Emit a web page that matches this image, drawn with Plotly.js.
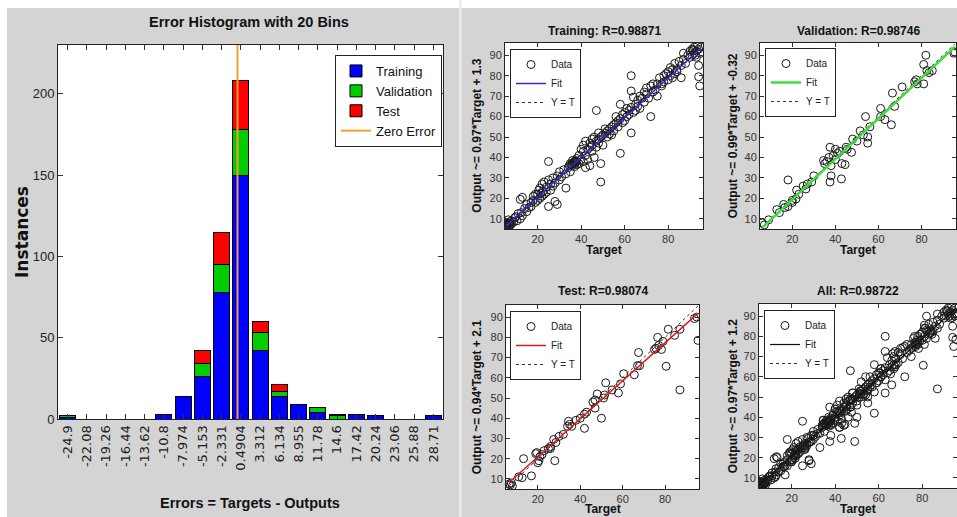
<!DOCTYPE html>
<html><head><meta charset="utf-8">
<script src="https://cdn.plot.ly/plotly-3.0.1.min.js"></script>
<style>html,body{margin:0;padding:0;background:#fff}#chart{width:957px;height:517px}</style>
</head><body><div id="chart"></div>
<script>
// ---------- Histogram data ----------
const binLabels = ['-24.9','-22.08','-19.26','-16.44','-13.62','-10.8','-7.974','-5.153','-2.331','0.4904',
                   '3.312','6.134','8.955','11.78','14.6','17.42','20.24','23.06','25.88','28.71'];
const trainCounts = [1,0,0,0,0,3,14,26,78,150,42,14,9,4,0,3,2,0,0,2];
const validCounts = [1,0,0,0,0,0,0,8,17,28,11,3,0,3,2,0,0,0,0,0];
const testCounts  = [0,0,0,0,0,0,0,8,20,30,7,4,0,0,1,0,0,0,0,0];
const histYTop = 230;

// ---------- Regression data ----------
const trainTarget = [5.5,6,6,6.5,7,7,7.5,8,8,6.5, 9,9.5,10,10.5,11,12,12.5,13,12,13,
  14,15,15,16,17,17,18,18,19,19, 20,20,20.5,21,21,21.5,22,22,22.5,23,
  23,24,24,25,25,25,26,26,27,27, 28,28,29,29,30,30,31,32,33,33,
  34,35,35,36,36,37,37,38,38,39, 39,40,40,41,41,41,42,42,42,43,
  43,44,44,44,45,45,45,46,46,47, 47,47,48,48,48,49,49,49,50,50,
  51,51,52,52,53,53,54,54,55,55, 56,56,57,57,58,58,58,59,59,60,
  60,61,61,62,62,63,63,63,63,64, 64,65,65,66,66,67,67,68,69,69,
  70,70,71,72,72,73,73,74,75,75, 76,77,77,78,78,79,80,80,81,81,
  82,82,83,83,84,84,85,86,86,87, 87,88,89,90,90,91,91,92,92,93,
  93,94,94,94,94.5,95,95,93.5,92.5,91.5, 35.5,36.5,37.5,34.5,5.5,6,7,36,37,38];
const trainOutput = [7,6.5,8,7.5,6.5,8.5,7,9,7.5,9.5, 8.5,10.5,11,9,12.5,10,13,11.5,19.5,20.5,
  15,13.5,17,15.5,18,16,19,21,22,18, 22,19,24,20,25,22.5,21,27,23.5,22,
  28,23,25.5,38,16,29,24,27,26,30, 27.5,18.5,17,31,29,33,30.5,34,25,32,
  35,33,37,36,38.5,37,35.5,38,39.5,37, 41,39,44,43,46,38,35,41,48,44,
  39,45,47,36,46,43,49,40,50,63, 48,45,49,47,52,37,28,50,51,46,
  52,54,53,50,54,51.5,55,51,56,53, 57,60,58,55,42,59,66,61,57,62,
  58,60,64,63,61,80,52,72.5,64.5,69.5, 62,66,63,65,68,70,64,69,67,72,
  71,74,69,60,75,72,76,73,76,70, 79,76,75,80,77,81,78,82,80,84,
  83,79,86,81,83,82,87,79,85,88, 91,86,90,89,92,90,93,91,94,92,
  89,93,85,79.5,75,91,94,95,90,92.5, 36.5,37.5,38.5,36,8,7,7.5,37,38,36.5];

const validTarget = [6,7,9,12.8,14,16,16.5,18,18,20, 20,21.7,22,23,25,26.3,27,29,30,34.5,
  35,36,37,37.5,37.5,38,38,39,40,40, 41,42,42.8,43,44.5,45,45.5,47.5,48,50,
  51.5,53,54,55,55,56,61,61,63,66, 66.5,67.5,71,76.8,77.5,78,81,81,82,82.5,
  83.5,85,95,95.5];
const validOutput = [8,7,9.5,14.5,13,17,15.5,29,16,18, 19,19.7,24,22,26,24.6,27,28,31,38.5,
  37,38,40,28,45,31,36,41,39,44, 42,43,29.5,37,36.5,45,44,42.5,49,48,
  53,51,60,50,47,55,64,60,58.5,56, 71.5,65,74.5,77,78,76,85.5,76,90,82.5,
  81.5,82.5,91,91.5];

const testTarget = [6.5,7,7.5,8,11,12.6,13.3,17,19,19.5, 20,20.5,21,22,23,25,26,26,27.5,28,
  28.5,30,32,34,34.5,35,36,38,40,42, 42,43,46,47,47,48,50,51,51.5,52,
  55,58,59,60.5,65.5,67,67.5,68,75,75.7, 76.5,77,78.3,79,80.5,81.5,84.5,87,87,93.8,
  95,95.5];
const testOutput = [7.5,7,8,6.5,11,10.6,20,11.5,22.5,23, 18,19,21,22,24,25,26,25,29.5,19,
  28,31,32,36,38.5,37,36,39,40,35, 42,43,48,45,49,52,40,50,51.5,57.5,
  54,52.5,57,62,61.5,66,72.5,66,74,74.6, 80,76,74,78,65.7,84,81,54,84,89.3,
  90,78.5];

const panelNames = ['Training','Validation','Test','All'];
const rValues = ['0.98871','0.98746','0.98074','0.98722'];
const fitSlopes = [0.97,0.99,0.94,0.97];
const fitIntercepts = [1.3,-0.32,2.1,1.2];
const regRange = [5, 96];

// ---------- helpers (layout positions in pixels) ----------
const W = 957, H = 517;
const px = v => v / W;
const py = v => 1 - v / H;
const ARIAL = "'Liberation Sans', Arial, sans-serif";
const DEJAVU = "'DejaVu Sans', sans-serif";

const binCenters = binLabels.map(Number);

const traces = [];
const barLine = {color:'#000', width:1};
traces.push({type:'bar', x:binCenters, y:trainCounts, name:'Training', marker:{color:'#0000ff', line:barLine}, xaxis:'x', yaxis:'y', legend:'legend', legendrank:1});
traces.push({type:'bar', x:binCenters, y:validCounts, name:'Validation', marker:{color:'#00cc00', line:barLine}, xaxis:'x', yaxis:'y', legend:'legend', legendrank:2});
traces.push({type:'bar', x:binCenters, y:testCounts, name:'Test', marker:{color:'#ff0000', line:barLine}, xaxis:'x', yaxis:'y', legend:'legend', legendrank:3});
traces.push({type:'scatter', mode:'lines', x:[0,0], y:[0,histYTop], name:'Zero Error', line:{color:'#f5a030', width:2}, xaxis:'x', yaxis:'y', legend:'legend', legendrank:4});

const panelData = [
  [trainTarget, trainOutput],
  [validTarget, validOutput],
  [testTarget, testOutput],
  [trainTarget.concat(validTarget, testTarget), trainOutput.concat(validOutput, testOutput)]
];
const fitColors = ['#2a2ae0','#3ddc3d','#e01a1a','#111111'];
const fitWidths = [1.5, 2.5, 1.5, 1.2];

panelData.forEach((d, i) => {
  const ax = String(i + 2);
  const lg = 'legend' + ax;
  const tmin = Math.min(...d[0]), tmax = Math.max(...d[0]);
  traces.push({type:'scatter', mode:'markers', x:d[0], y:d[1], name:'Data',
    marker:{symbol:'circle-open', size:8, color:'#1a1a1a', line:{width:1}},
    xaxis:'x'+ax, yaxis:'y'+ax, legend:lg, legendrank:1});
  traces.push({type:'scatter', mode:'lines', x:[tmin,tmax], y:[tmin,tmax], name:'Y = T',
    line:{color:'#333', width:1, dash:'dot'}, xaxis:'x'+ax, yaxis:'y'+ax, legend:lg, legendrank:3});
  traces.push({type:'scatter', mode:'lines', x:[tmin,tmax],
    y:[fitSlopes[i]*tmin + fitIntercepts[i], fitSlopes[i]*tmax + fitIntercepts[i]], name:'Fit',
    line:{color:fitColors[i], width:fitWidths[i]}, xaxis:'x'+ax, yaxis:'y'+ax, legend:lg, legendrank:2});
});

// panel pixel boxes [left, right, top, bottom]
const boxes = [[505,703,43,229],[760,956,43,229],[506,699,305,489],[759,957,304,488]];
const yTitleX = [476.7, 733.3, 477.3, 733.3];
const titleY = [30.7, 30.7, 291.3, 291.3];
const xTitleY = [250, 250, 509, 509];
const legendPos = [[510,49],[765,48],[510,311],[764,310]];

const layout = {
  width: W, height: H,
  margin:{l:0,r:0,t:0,b:0},
  paper_bgcolor:'#d4d4d4', plot_bgcolor:'#ffffff',
  barmode:'stack', bargap:0.17,
  showlegend:true,
  xaxis:{domain:[px(58),px(443)], range:[-26.31,30.12], tickvals:binCenters, ticktext:binLabels,
    tickangle:-90, ticks:'inside', ticklen:5, tickcolor:'#333', mirror:'ticks', showline:true, linecolor:'#222',
    linewidth:1, zeroline:false, showgrid:false, tickfont:{family:DEJAVU, size:13, color:'#222'}, anchor:'y'},
  yaxis:{domain:[py(419),py(45)], range:[0,histYTop], dtick:50, tick0:0, ticks:'inside', ticklen:5, tickcolor:'#333',
    mirror:'ticks', showline:true, linecolor:'#222', linewidth:1, zeroline:false, showgrid:false,
    tickfont:{family:ARIAL, size:13, color:'#222'}, anchor:'x'},
  legend:{x:px(335), y:py(55), xanchor:'left', yanchor:'top', bgcolor:'#fff', bordercolor:'#222', borderwidth:1,
    font:{family:ARIAL, size:13, color:'#111'}, traceorder:'normal', itemwidth:30, tracegroupgap:0},
  shapes:[
    {type:'rect', xref:'paper', yref:'paper', x0:0, x1:1, y0:py(8), y1:1, fillcolor:'#fff', line:{width:0}, layer:'below'},
    {type:'rect', xref:'paper', yref:'paper', x0:0, x1:px(7), y0:0, y1:1, fillcolor:'#fff', line:{width:0}, layer:'below'},
    {type:'rect', xref:'paper', yref:'paper', x0:px(459), x1:px(461.5), y0:0, y1:1, fillcolor:'#ececec', line:{width:0}, layer:'below'}
  ],
  annotations:[
    {text:'<b>Error Histogram with 20 Bins</b>', x:px(249), y:py(22), xref:'paper', yref:'paper', showarrow:false,
      xanchor:'center', yanchor:'middle', font:{family:ARIAL, size:14.5, color:'#111'}},
    {text:'<b>Instances</b>', x:px(22), y:py(232), xref:'paper', yref:'paper', showarrow:false, textangle:-90,
      xanchor:'center', yanchor:'middle', font:{family:DEJAVU, size:17, color:'#111'}},
    {text:'<b>Errors = Targets - Outputs</b>', x:px(250), y:py(503), xref:'paper', yref:'paper', showarrow:false,
      xanchor:'center', yanchor:'middle', font:{family:ARIAL, size:14.5, color:'#111'}}
  ]
};

boxes.forEach((b, i) => {
  const ax = String(i + 2);
  const common = {range:regRange, ticks:'inside', ticklen:4, tickcolor:'#333', mirror:'ticks', showline:true,
    linecolor:'#222', linewidth:1, zeroline:false, showgrid:false, tickfont:{family:ARIAL, size:11, color:'#333'}};
  layout['xaxis'+ax] = Object.assign({}, common, {domain:[px(b[0]), px(b[1])], dtick:20, tick0:0, anchor:'y'+ax});
  layout['yaxis'+ax] = Object.assign({}, common, {domain:[py(b[3]), py(b[2])], dtick:10, tick0:0, anchor:'x'+ax});
  layout['legend'+ax] = {x:px(legendPos[i][0]), y:py(legendPos[i][1]), xanchor:'left', yanchor:'top', bgcolor:'#fff',
    bordercolor:'#222', borderwidth:1, font:{family:ARIAL, size:10, color:'#222'}, traceorder:'normal', itemwidth:30, tracegroupgap:0};
  const cx = (b[0] + b[1]) / 2, cy = (b[2] + b[3]) / 2;
  layout.annotations.push({text:'<b>' + panelNames[i] + ': R=' + rValues[i] + '</b>', x:px(cx), y:py(titleY[i]),
    xref:'paper', yref:'paper', showarrow:false, xanchor:'center', yanchor:'middle', font:{family:ARIAL, size:12, color:'#111'}});
  layout.annotations.push({text:'<b>Output ~= ' + fitSlopes[i] + '*Target + ' + fitIntercepts[i] + '</b>', x:px(yTitleX[i]), y:py(cy),
    xref:'paper', yref:'paper', showarrow:false, textangle:-90, xanchor:'center', yanchor:'middle', font:{family:ARIAL, size:12, color:'#111'}});
  layout.annotations.push({text:'<b>Target</b>', x:px(cx), y:py(xTitleY[i]), xref:'paper', yref:'paper', showarrow:false,
    xanchor:'center', yanchor:'middle', font:{family:ARIAL, size:12, color:'#111'}});
});

Plotly.newPlot('chart', traces, layout, {displayModeBar:false, staticPlot:true});
</script>
</body></html>
